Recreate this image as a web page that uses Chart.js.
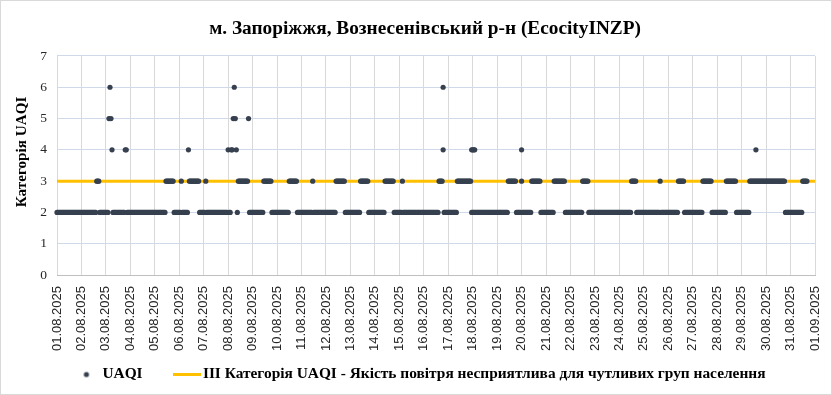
<!DOCTYPE html>
<html><head><meta charset="utf-8">
<script src="https://cdn.jsdelivr.net/npm/chart.js@4"></script>
<style>html,body{margin:0;padding:0;background:#fff}#wrap{width:832px;height:395px}</style>
</head><body><div id="wrap"><canvas id="c" width="832" height="395"></canvas></div>
<script>
const chartTitle = "м. Запоріжжя, Вознесенівський р-н (EcocityINZP)";
const yAxisTitle = "Категорія UAQI";
const seriesName = "UAQI";
const thresholdName = "III Категорія UAQI - Якість повітря несприятлива для чутливих груп населення";
const dayLabels = ["01.08.2025","02.08.2025","03.08.2025","04.08.2025","05.08.2025","06.08.2025","07.08.2025","08.08.2025","09.08.2025","10.08.2025","11.08.2025","12.08.2025","13.08.2025","14.08.2025","15.08.2025","16.08.2025","17.08.2025","18.08.2025","19.08.2025","20.08.2025","21.08.2025","22.08.2025","23.08.2025","24.08.2025","25.08.2025","26.08.2025","27.08.2025","28.08.2025","29.08.2025","30.08.2025","31.08.2025","01.09.2025"];
const yTicks = [0,1,2,3,4,5,6,7];
// hourly UAQI category, one string per day (24 hours), '-' = no data
const hourlyUAQI = [
  "22222 22222 22222 22222 2222",
  "22222 22222 22222 333 222222",
  "222 5654 22222 22222 22 44 222",
  "22222 22222 22222 22222 2222",
  "22222 22222 2 33333333 22222",
  "22 3 222222 4 33333 33333 2222",
  "22 3 22222 22222 22222 22222 2",
  "4 22 44 565 4 2 33333 33333 5 222",
  "22222 22222 2 33333333 22222",
  "22222 22222 22 33333333 2222",
  "22222 22222 2 3 22222 22222 22",
  "22222 22222 333333333 22222",
  "22222 22222 33333333 222222",
  "22222 22222 333333333 22222",
  "222 3 22222 22222 22222 22222",
  "22222 22222 22222 3333 6 2222",
  "22222 2222 33333 33333 3333 2",
  "22222 22222 22222 22222 2222",
  "22222 22222 2 33333333 22222",
  "3 22222 2222 33333 3333 22222",
  "22222 222 33333 33333 3 22222",
  "22222 22222 22 333333 222222",
  "22222 22222 22222 22222 2222",
  "22222 22222 22 33333 22222 22",
  "22222 22222 22222 2 3 22222 22",
  "22222 22222 333333 22222 222",
  "22222 22222 333333333 22222",
  "22222 2222 33333 33333 22222",
  "22222 222 33333 33333 33333 3",
  "33333 33333 33333 3333 22222",
  "22222 22222 22 33333 -------"
];
// additional readings sharing an hour with another reading: [hour of month, value]
const extraHours  = [379, 407, 408, 409, 410, 456, 686];
const extraValues = [4, 4, 4, 4, 4, 4, 4];
const thresholdValue = 3;

const HOURS_PER_DAY = 24;
const totalHours = (dayLabels.length - 1) * HOURS_PER_DAY;

const points = [];
hourlyUAQI.forEach((s, d) => {
  const t = s.replace(/ /g, '');
  if (t.length !== HOURS_PER_DAY) throw new Error('Day ' + (d + 1) + ' has ' + t.length + ' hours');
  for (let i = 0; i < t.length; i++) {
    if (t[i] !== '-') points.push({x: d * HOURS_PER_DAY + i, y: Number(t[i])});
  }
});
extraHours.forEach((h, i) => points.push({x: h, y: extraValues[i]}));

const dotColor = '#36404f';
const lineColor = '#FFC000';
const serif = "'Liberation Serif','Times New Roman',serif";
const sans = "'Liberation Sans',Arial,sans-serif";

function dotImage() {
  const c = document.createElement('canvas'); c.width = 8; c.height = 8;
  const g = c.getContext('2d'); g.fillStyle = dotColor;
  g.beginPath(); g.arc(4, 4, 2.6, 0, Math.PI * 2); g.fill(); return c;
}
function lineImage() {
  const c = document.createElement('canvas'); c.width = 28; c.height = 3;
  const g = c.getContext('2d'); g.fillStyle = lineColor; g.fillRect(0, 0, 28, 3); return c;
}
const legendImgs = [dotImage(), lineImage()];

const bgPlugin = {
  id: 'bg',
  beforeDraw(chart) {
    const ctx = chart.ctx;
    ctx.save();
    ctx.fillStyle = '#fff'; ctx.fillRect(0, 0, chart.width, chart.height);
    ctx.strokeStyle = '#d9d9d9'; ctx.lineWidth = 1;
    ctx.strokeRect(0.5, 0.5, chart.width - 1, chart.height - 1);
    ctx.restore();
  },
  afterLayout(chart) {
    if (chart.titleBlock) chart.titleBlock.left += 27;
    if (chart.scales.x) chart.scales.x.bottom += 14;
    if (chart.scales.y) chart.scales.y.top -= 27;
    if (chart.legend) {
      chart.legend.left += 10.3; chart.legend.right += 10.3;
      chart.legend.top -= 10.2; chart.legend.bottom -= 10.2;
    }
  }
};

new Chart(document.getElementById('c'), {
  type: 'scatter',
  data: {
    datasets: [
      {
        label: seriesName,
        data: points,
        backgroundColor: dotColor,
        borderColor: dotColor,
        pointRadius: 2.6,
        pointBorderWidth: 0,
        pointHoverRadius: 2.6,
        clip: 6
      },
      {
        type: 'line',
        label: thresholdName,
        data: [{x: 0, y: thresholdValue}, {x: totalHours, y: thresholdValue}],
        borderColor: lineColor,
        backgroundColor: lineColor,
        borderWidth: 3,
        pointRadius: 0,
        fill: false
      }
    ]
  },
  options: {
    responsive: false,
    animation: false,
    devicePixelRatio: 1,
    layout: {padding: {left: 8, right: 17, top: 0, bottom: -7.4}},
    plugins: {
      tooltip: {enabled: false},
      title: {
        display: true,
        text: chartTitle,
        color: '#000',
        font: {family: serif, size: 19.3, weight: 'bold', lineHeight: 1.2},
        padding: {top: 17.9, bottom: 14.9}
      },
      legend: {
        position: 'bottom',
        labels: {
          usePointStyle: true,
          pointStyleWidth: 16.6,
          padding: 36,
          color: '#000',
          font: {family: serif, size: 15.4, weight: 'bold'},
          generateLabels: (chart) => chart.data.datasets.map((ds, i) => ({
            text: ds.label,
            pointStyle: legendImgs[i],
            fillStyle: ds.borderColor,
            strokeStyle: ds.borderColor,
            lineWidth: 0,
            hidden: false,
            datasetIndex: i,
            fontColor: '#000'
          }))
        }
      }
    },
    scales: {
      x: {
        type: 'linear',
        min: 0,
        max: totalHours,
        afterBuildTicks(scale) {
          scale.ticks = dayLabels.map((_, i) => ({value: i * HOURS_PER_DAY}));
        },
        afterFit(scale) { scale.height = 66; scale.paddingLeft = 0; scale.paddingRight = 0; },
        ticks: {
          autoSkip: false,
          minRotation: 90,
          maxRotation: 90,
          padding: 11,
          color: '#262626',
          font: {family: sans, size: 13},
          callback: (v) => dayLabels[Math.round(v / HOURS_PER_DAY)]
        },
        grid: {color: '#d9d9d9', lineWidth: 1, drawTicks: false},
        border: {display: true, color: '#bfbfbf', width: 1}
      },
      y: {
        min: yTicks[0],
        max: yTicks[yTicks.length - 1],
        afterBuildTicks(scale) { scale.ticks = yTicks.map(v => ({value: v})); },
        afterFit(scale) { scale.width = 49; scale.paddingTop = 0; scale.paddingBottom = 0; },
        ticks: {
          padding: 10,
          color: '#262626',
          font: {family: serif, size: 13.5}
        },
        grid: {color: '#d0d9ea', lineWidth: 1, drawTicks: false},
        border: {display: false},
        title: {
          display: true,
          text: yAxisTitle,
          color: '#000',
          font: {family: serif, size: 15.2, weight: 'bold', lineHeight: 1.2},
          padding: {top: 4.9, bottom: 0}
        }
      }
    }
  },
  plugins: [bgPlugin]
});
</script>
</body></html>
